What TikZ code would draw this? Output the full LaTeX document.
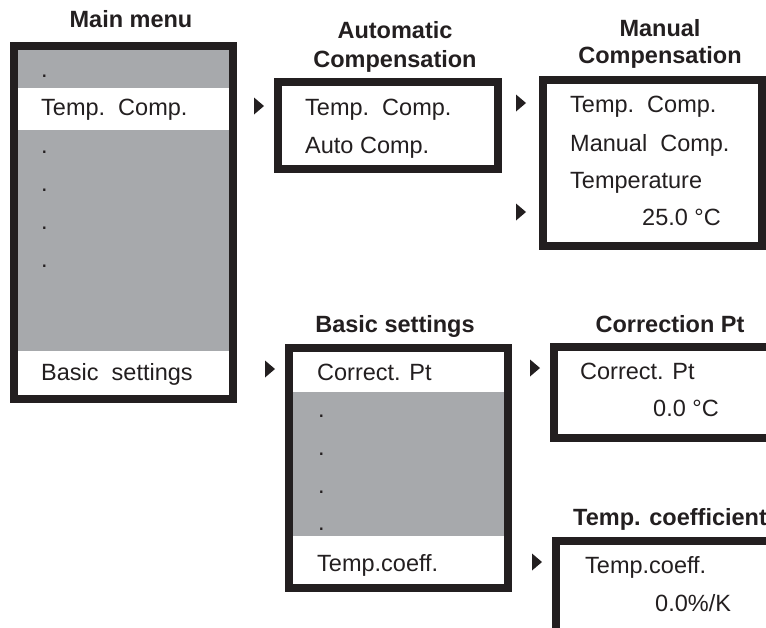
\documentclass[tikz,border=0pt]{standalone}
\usepackage{fontspec}
\setmainfont{Liberation Sans}
\definecolor{panelgray}{RGB}{167,169,172}
\definecolor{ink}{RGB}{35,31,32}
\tikzset{
  frame/.style={draw=ink, line width=8pt},
  item/.style={anchor=base west, inner sep=0pt, font=\fontsize{23.5}{28}\selectfont, text=ink},
  title/.style={anchor=base, inner sep=0pt, font=\fontsize{23.5}{27}\selectfont\bfseries, text=ink},
  titleleft/.style={title, anchor=base west},
  ptr/.pic={\fill[ink] (-5,-8.5) -- (5,0) -- (-5,8.5) -- cycle;}
}
\begin{document}
\begin{tikzpicture}[x=1pt,y=-1pt]
\useasboundingbox (0,0) rectangle (766,627);
\clip (0,0) rectangle (766,627);
\fill[white] (0,0) rectangle (766,627);

% ---------- Main menu ----------
\node[title] (tmain) at (131,27) {Main menu};
\fill[panelgray] (18,50) rectangle (229,88);
\fill[panelgray] (18,130) rectangle (229,351);
\draw[frame] (14,46) rectangle (233,399);
\node[item] (m0) at (41,77) {.};
\node[item] (m1) at (41,115) {Temp.\ \ Comp.};
\node[item] (m2) at (41,153.5) {.};
\node[item] (m3) at (41,191.5) {.};
\node[item] (m4) at (41,229.5) {.};
\node[item] (m5) at (41,267.5) {.};
\node[item] (m6) at (41,380) {Basic\ \ settings};

% ---------- Automatic compensation ----------
\node[title] (ta1) at (395,38) {Automatic};
\node[title] (ta2) at (395,67) {Compensation};
\draw[frame] (278,82) rectangle (498,169);
\node[item] (a1) at (305,115) {Temp.\ \ Comp.};
\node[item] (a2) at (305,153) {Auto Comp.};
\pic at (259,106) {ptr};

% ---------- Manual compensation ----------
\node[title] (tm1) at (660,36) {Manual};
\node[title] (tm2) at (660,63) {Compensation};
\draw[frame] (543,80) rectangle (762,246);
\node[item] (c1) at (570,112) {Temp.\ \ Comp.};
\node[item] (c2) at (570,151) {Manual\ \ Comp.};
\node[item] (c3) at (570,188) {Temperature};
\node[item] (c4) at (642,225) {25.0 °C};
\pic at (521,103) {ptr};
\pic at (521,212) {ptr};

% ---------- Basic settings ----------
\node[title] (tb) at (395,332) {Basic settings};
\fill[panelgray] (293,392) rectangle (504,536);
\draw[frame] (289,348) rectangle (508,588);
\node[item] (b1) at (317,380) {Correct. Pt};
\node[item] (b2) at (318,417) {.};
\node[item] (b3) at (318,455) {.};
\node[item] (b4) at (318,493) {.};
\node[item] (b5) at (318,530) {.};
\node[item] (b6) at (317,571) {Temp.coeff.};
\pic at (270,369) {ptr};

% ---------- Correction Pt ----------
\node[title] (tc) at (670,332) {Correction Pt};
\draw[frame] (770,347) -- (554,347) -- (554,438) -- (770,438);
\node[item] (p1) at (580,379) {Correct. Pt};
\node[item] (p2) at (653,416) {0.0 °C};
\pic at (535,368) {ptr};

% ---------- Temp. coefficient ----------
\node[titleleft] (tt) at (573,525) {Temp. coefficient};
\draw[frame] (770,541) -- (556,541) -- (556,640);
\node[item] (k1) at (585,573) {Temp.coeff.};
\node[item] (k2) at (655,611) {0.0\%/K};
\pic at (537,562) {ptr};
\end{tikzpicture}
\end{document}
